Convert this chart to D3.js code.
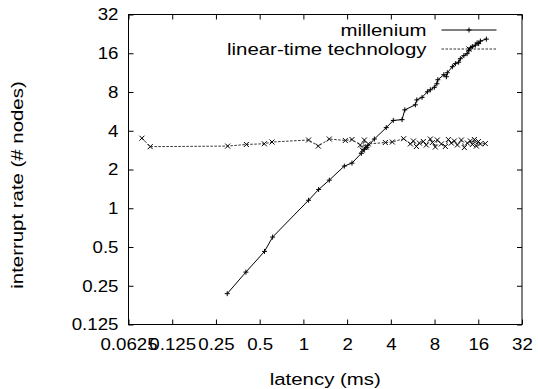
<!DOCTYPE html>
<html>
<head>
<meta charset="utf-8">
<script src="https://cdn.jsdelivr.net/npm/d3@7"></script>
<style>
  body { margin: 0; background: #fff; }
  text { font-family: "Liberation Sans", Arial, sans-serif; }
</style>
</head>
<body>
<div id="chart"></div>
<script>
// tick values (log2 axes)
const xTicks = [0.0625, 0.125, 0.25, 0.5, 1, 2, 4, 8, 16, 32];
const yTicks = [0.125, 0.25, 0.5, 1, 2, 4, 8, 16, 32];

// series: [latency (ms), interrupt rate]
const millenium = [
  [0.299, 0.217], [0.402, 0.319], [0.540, 0.462], [0.614, 0.597], [1.086, 1.154],
  [1.273, 1.399], [1.508, 1.653], [1.913, 2.126], [2.161, 2.244], [2.505, 2.671],
  [2.639, 2.870], [2.742, 2.975], [3.08, 3.45], [3.72, 4.23], [4.16, 4.81],
  [4.78, 4.88], [4.99, 5.81], [5.90, 6.36], [6.04, 6.95], [6.56, 7.27],
  [7.14, 8.03], [7.48, 8.32], [7.97, 8.70], [8.30, 9.27], [8.43, 9.96],
  [9.27, 10.90], [9.65, 10.51], [9.80, 11.29], [10.61, 12.58], [11.13, 13.28],
  [11.72, 13.63], [12.04, 14.52], [12.73, 15.33], [13.40, 15.89], [13.78, 16.76],
  [14.23, 17.69], [14.57, 18.01], [15.28, 18.51], [15.70, 19.25], [16.10, 19.01],
  [16.54, 19.88], [18.19, 20.61]
];
const linearTime = [
  [0.0773, 3.50], [0.0882, 3.01], [0.301, 3.04], [0.405, 3.13], [0.538, 3.17],
  [0.608, 3.27], [1.086, 3.39], [1.267, 3.04], [1.508, 3.45], [1.944, 3.36],
  [2.161, 3.42], [2.466, 3.10], [2.545, 2.83], [2.628, 3.39], [2.712, 2.99],
  [2.800, 3.16], [3.666, 3.24], [4.096, 3.27], [4.90, 3.47], [5.45, 3.16],
  [5.72, 3.33], [6.00, 3.02], [6.29, 3.21], [6.70, 3.30], [7.02, 3.10],
  [7.48, 3.45], [7.73, 3.24], [8.10, 2.99], [8.36, 3.39], [8.91, 3.16],
  [9.50, 3.02], [9.96, 3.42], [10.44, 3.21], [10.95, 3.33], [11.49, 3.10],
  [12.24, 3.39], [12.83, 2.96], [13.46, 3.21], [14.11, 3.33], [14.57, 3.13],
  [15.04, 3.42], [15.53, 3.04], [16.03, 3.30], [16.54, 3.16], [17.90, 3.18]
];
const seriesNames = ["millenium", "linear-time technology"];

const width = 538, height = 389;
const margin = { top: 14.5, right: 16, bottom: 64.5, left: 128.5 };
const fs = 17;
const tickStretch = 1.1, wordStretch = 1.2; // the original font is wider than Liberation

const svg = d3.select("#chart").append("svg")
  .attr("width", width)
  .attr("height", height);

const x = d3.scaleLog().base(2).domain([0.0625, 32])
  .range([margin.left, width - margin.right]);
const y = d3.scaleLog().base(2).domain([0.125, 32])
  .range([height - margin.bottom, margin.top]);

const fmt = d => String(d);

// axes with inward ticks
const gx = svg.append("g")
  .attr("transform", `translate(0,${height - margin.bottom})`)
  .call(d3.axisBottom(x).tickValues(xTicks).tickSize(-5).tickPadding(13).tickFormat(fmt));
svg.append("g")
  .attr("transform", `translate(0,${margin.top})`)
  .call(d3.axisTop(x).tickValues(xTicks).tickSize(-5).tickFormat(""));
const gy = svg.append("g")
  .attr("transform", `translate(${margin.left},0)`)
  .call(d3.axisLeft(y).tickValues(yTicks).tickSize(-5).tickFormat(fmt));
svg.append("g")
  .attr("transform", `translate(${width - margin.right},0)`)
  .call(d3.axisRight(y).tickValues(yTicks).tickSize(-5).tickFormat(""));

svg.selectAll(".domain").remove();
svg.selectAll(".tick line").attr("stroke", "#000");
svg.selectAll(".tick text")
  .attr("fill", "#000")
  .style("font-size", fs + "px")
  .attr("transform", `scale(${tickStretch},1)`);
gy.selectAll(".tick text").attr("x", -10 / tickStretch);

// border
svg.append("rect")
  .attr("x", margin.left)
  .attr("y", margin.top)
  .attr("width", width - margin.right - margin.left)
  .attr("height", height - margin.bottom - margin.top)
  .attr("fill", "none")
  .attr("stroke", "#000");

function label(tx, ty, rot, anchor, str) {
  return svg.append("text")
    .attr("transform", `translate(${tx},${ty})rotate(${rot})scale(${wordStretch},1)`)
    .attr("text-anchor", anchor)
    .style("font-size", fs + "px")
    .text(str);
}

// axis titles
label((margin.left + width - margin.right) / 2, 385, 0, "middle", "latency (ms)");
label(23, 185, -90, "middle", "interrupt rate (# nodes)");

const line = d3.line().x(d => x(d[0])).y(d => y(d[1]));
const plus = "M-2.5,0H2.5M0,-2.5V2.5";
const cross = "M-2.5,-2.5L2.5,2.5M-2.5,2.5L2.5,-2.5";

// millenium
svg.append("path")
  .datum(millenium)
  .attr("d", line)
  .attr("fill", "none")
  .attr("stroke", "#000")
  .attr("stroke-width", 1);
svg.selectAll(".pm")
  .data(millenium)
  .join("path")
  .attr("class", "pm")
  .attr("transform", d => `translate(${x(d[0])},${y(d[1])})`)
  .attr("d", plus)
  .attr("stroke", "#000");

// linear-time technology
svg.append("path")
  .datum(linearTime)
  .attr("d", line)
  .attr("fill", "none")
  .attr("stroke", "#333")
  .attr("stroke-width", 1)
  .attr("stroke-dasharray", "2.5,1.5");
svg.selectAll(".pl")
  .data(linearTime)
  .join("path")
  .attr("class", "pl")
  .attr("transform", d => `translate(${x(d[0])},${y(d[1])})`)
  .attr("d", cross)
  .attr("stroke", "#000");

// legend
const ly = [30, 49];
seriesNames.forEach((name, i) => {
  label(426.5, ly[i] + 6, 0, "end", name);
  svg.append("line")
    .attr("x1", 441.5).attr("x2", 496.5)
    .attr("y1", ly[i]).attr("y2", ly[i])
    .attr("stroke", i === 0 ? "#000" : "#333")
    .attr("stroke-dasharray", i === 0 ? null : "2.5,1.5");
  svg.append("path")
    .attr("transform", `translate(469,${ly[i]})`)
    .attr("d", i === 0 ? plus : cross)
    .attr("stroke", "#000");
});
</script>
</body>
</html>
